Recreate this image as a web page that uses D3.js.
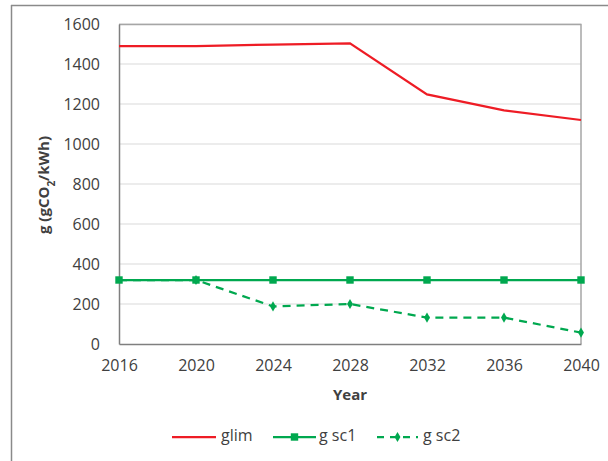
<!DOCTYPE html>
<html>
<head>
<meta charset="utf-8">
<script src="https://cdn.jsdelivr.net/npm/d3@7"></script>
<style>
  html, body { margin: 0; padding: 0; background: #fff; }
  svg { display: block; }
  text { font-family: "Open Sans", "Liberation Sans", sans-serif; fill: #404040; }
</style>
</head>
<body>
<script>
// Emission intensity series, 2016–2040
const years = [2016, 2020, 2024, 2028, 2032, 2036, 2040];
const glim  = [1490, 1490, 1497, 1503, 1248, 1168, 1120];
const gsc1  = [320, 320, 320, 320, 320, 320, 320];
const gsc2  = [320, 320, 188, 200, 132, 132, 57];
const yTicks = [0, 200, 400, 600, 800, 1000, 1200, 1400, 1600];

const W = 608, H = 461;
const margin = { left: 119, right: 27, top: 24, bottom: 117 };
const iw = W - margin.left - margin.right;
const ih = H - margin.top - margin.bottom;

const svg = d3.select("body").append("svg").attr("width", W).attr("height", H);

// outer frame (left and top edges)
svg.append("line").attr("x1", 11.5).attr("x2", 11.5).attr("y1", 5).attr("y2", H)
  .attr("stroke", "#8a8a8a").attr("stroke-width", 1.5);
svg.append("line").attr("x1", 11).attr("x2", W).attr("y1", 5.5).attr("y2", 5.5)
  .attr("stroke", "#8a8a8a").attr("stroke-width", 1.5);

const x = d3.scaleLinear().domain([2016, 2040]).range([0, iw]);
const y = d3.scaleLinear().domain([0, 1600]).range([ih, 0]);

const g = svg.append("g").attr("transform", `translate(${margin.left},${margin.top})`);

// gridlines
g.append("g").selectAll("line").data(yTicks.slice(1)).join("line")
  .attr("x1", 0).attr("x2", iw)
  .attr("y1", d => y(d)).attr("y2", d => y(d))
  .attr("stroke", "#d9d9d9").attr("stroke-width", 1);

// plot border (top and right)
g.append("path")
  .attr("d", `M0,0.5H${iw}V${ih}`)
  .attr("fill", "none").attr("stroke", "#a6a6a6").attr("stroke-width", 1.5);

// axes
const yAxis = g.append("g")
  .call(d3.axisLeft(y).tickValues(yTicks).tickFormat(d3.format("d")).tickSize(0).tickPadding(19));
const xAxis = g.append("g").attr("transform", `translate(0,${ih})`)
  .call(d3.axisBottom(x).tickValues(years).tickFormat(d3.format("d")).tickSize(0).tickPadding(16));
[yAxis, xAxis].forEach(a => {
  a.select(".domain").attr("stroke", "#7f7f7f").attr("stroke-width", 1.5);
  a.selectAll("text").attr("font-size", "16px").attr("fill", "#404040")
    .style("font-family", '"Open Sans", "Liberation Sans", sans-serif');
});

// axis titles
g.append("text")
  .attr("transform", `translate(${45 - margin.left},${185 - margin.top}) rotate(-90)`)
  .attr("text-anchor", "middle").attr("font-size", "15px").attr("font-weight", "bold")
  .attr("dominant-baseline", "middle")
  .html('g (gCO<tspan baseline-shift="sub" font-size="10px">2</tspan>/kWh)');
g.append("text")
  .attr("x", iw / 2).attr("y", ih + 56)
  .attr("text-anchor", "middle").attr("font-size", "15px").attr("font-weight", "bold")
  .text("Year");

const line = d3.line().x((d, i) => x(years[i])).y(d => y(d));
const GREEN = "#00a84f", RED = "#ee1c25";

g.append("path").datum(glim).attr("d", line)
  .attr("fill", "none").attr("stroke", RED).attr("stroke-width", 2.25);

g.append("path").datum(gsc2).attr("d", line)
  .attr("fill", "none").attr("stroke", GREEN).attr("stroke-width", 2.25)
  .attr("stroke-dasharray", "8,6");
g.append("path").datum(gsc1).attr("d", line)
  .attr("fill", "none").attr("stroke", GREEN).attr("stroke-width", 2.25);

const sq = d3.symbol().type(d3.symbolSquare).size(55);
const dm = d3.symbol().type(d3.symbolDiamond).size(30);

g.append("g").selectAll("path").data(gsc1).join("path")
  .attr("transform", (d, i) => `translate(${x(years[i])},${y(d)})`)
  .attr("d", sq).attr("fill", GREEN);
g.append("g").selectAll("path").data(gsc2).join("path")
  .filter((d, i) => i > 0)
  .attr("transform", (d, i) => `translate(${x(years[i + 1])},${y(d)})`)
  .attr("d", dm).attr("fill", GREEN);

// legend
const leg = svg.append("g").attr("transform", "translate(0,437)");
const items = [
  { name: "glim", color: RED, x1: 172, x2: 216, tx: 221, dash: null, marker: null },
  { name: "g sc1", color: GREEN, x1: 273, x2: 316, tx: 319, dash: null, marker: sq },
  { name: "g sc2", color: GREEN, x1: 377, x2: 418, tx: 423, dash: "7,6", marker: dm }
];
items.forEach(it => {
  leg.append("line").attr("x1", it.x1).attr("x2", it.x2).attr("y1", 0).attr("y2", 0)
    .attr("stroke", it.color).attr("stroke-width", 2.25)
    .attr("stroke-dasharray", it.dash);
  if (it.marker) {
    leg.append("path").attr("transform", `translate(${(it.x1 + it.x2) / 2},0)`)
      .attr("d", it.marker).attr("fill", it.color);
  }
  leg.append("text").attr("x", it.tx).attr("y", 0).attr("dominant-baseline", "middle")
    .attr("font-size", "16px").text(it.name);
});
</script>
</body>
</html>
